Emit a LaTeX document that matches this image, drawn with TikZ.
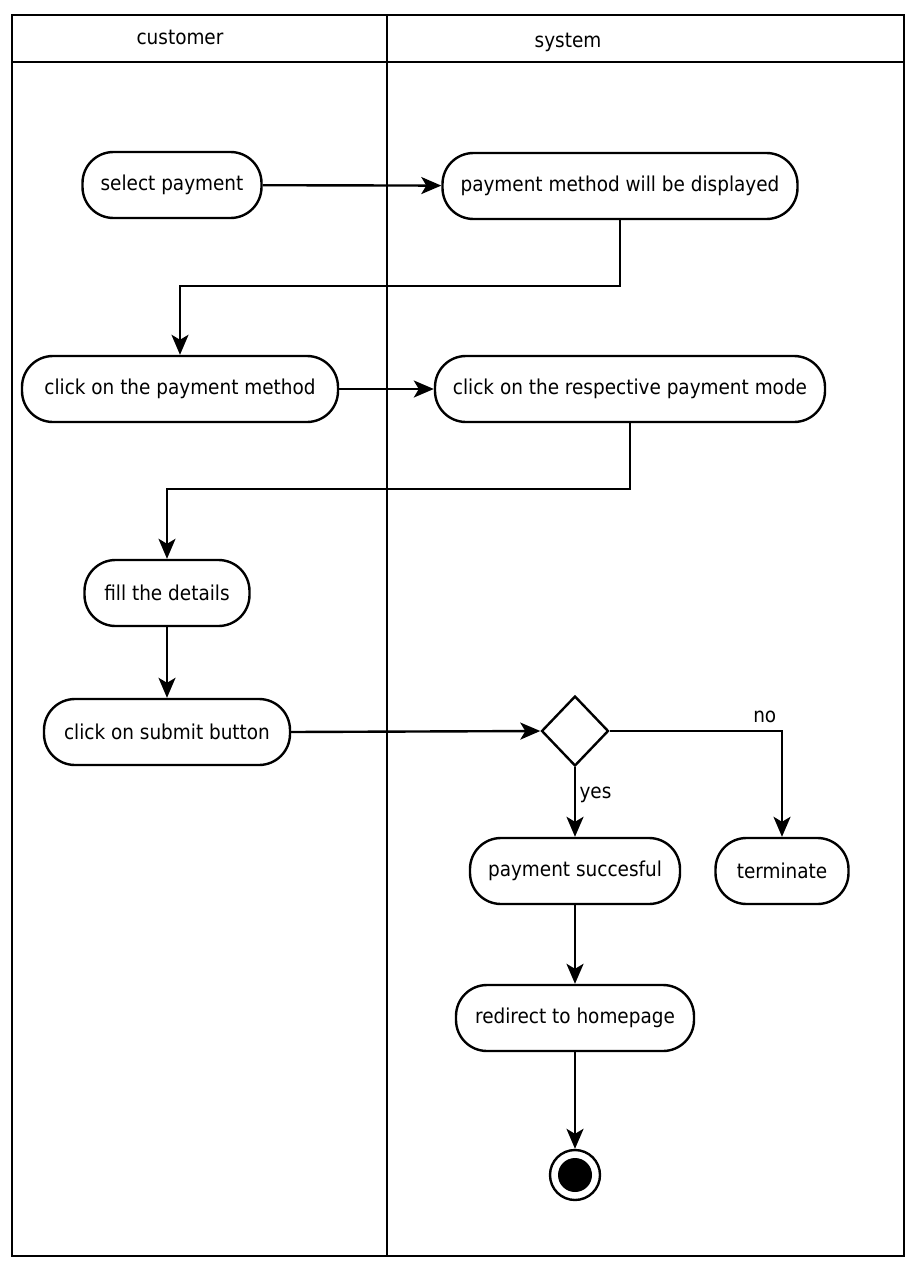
\documentclass[tikz,border=0pt]{standalone}
\usepackage{fontspec}
\setmainfont{DejaVu Sans Condensed}
\usepackage{tikz}
\usetikzlibrary{shapes.geometric,arrows.meta}

\begin{document}
\begin{tikzpicture}[x=1pt,y=-1pt,line width=2.4pt,
  act/.style={draw,rectangle,rounded corners=31pt,minimum height=66pt,inner xsep=10pt,font=\fontsize{20.5}{24}\selectfont},
  dec/.style={draw,diamond,minimum width=67pt,minimum height=70pt,inner sep=0pt},
  lbl/.style={font=\fontsize{20.5}{24}\selectfont},
  arr/.style={-{Stealth[length=20pt,width=17pt,inset=5pt]}}]
\useasboundingbox (0,0) rectangle (907,1268);
% swimlanes
\draw (12,15) rectangle (904,1256);
\draw (12,62) -- (904,62);
\draw (387,15) -- (387,1256);
\node[lbl] (cust) at (180,37) {customer};
\node[lbl] (sys) at (568,42) {system};
% activities
\node[act,minimum width=179pt] (sel) at (172,185) {select payment};
\node[act,minimum width=355pt] (disp) at (620,186) {payment method will be displayed};
\node[act,minimum width=316pt] (clickpm) at (180,389) {click on the payment method};
\node[act,minimum width=390pt] (mode) at (630,389) {click on the respective payment mode};
\node[act,minimum width=165pt] (fill) at (167,593) {fill the details};
\node[act,minimum width=246pt] (submit) at (167,732) {click on submit button};
\node[dec] (check) at (575,731) {};
\node[act,minimum width=210pt] (succ) at (575,871) {payment succesful};
\node[act,minimum width=133pt] (term) at (782,871) {terminate};
\node[act,minimum width=238pt] (home) at (575,1018) {redirect to homepage};
\node[circle,draw,minimum size=50pt,inner sep=0pt] (fin) at (575,1175) {};
\node[circle,fill=black,minimum size=34pt,inner sep=0pt] (finin) at (fin) {};
% flows
\draw[arr] (sel) -- (disp);
\draw[arr] (disp.south) -- ++(0,66) -| (clickpm.north);
\draw[arr] (clickpm) -- (mode);
\draw[arr] (mode.south) -- ++(0,66) -| (fill.north);
\draw[arr] (fill) -- (submit);
\draw[arr] (submit.east) -- (check.west);
\draw[arr] (check.east) -| (term.north) node[lbl,pos=0.45,above=4pt] {no};
\draw[arr] (check.south) -- (succ.north) node[lbl,pos=0.4,right] {yes};
\draw[arr] (succ) -- (home);
\draw[arr] (home) -- (fin);
\end{tikzpicture}
\end{document}
